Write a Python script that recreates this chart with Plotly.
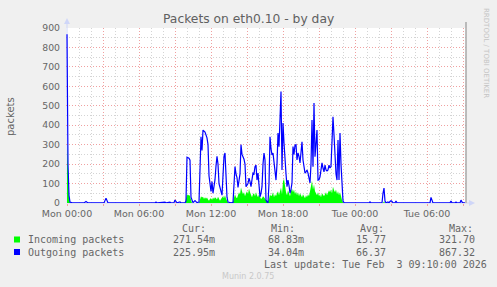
import pandas as pd
import plotly.graph_objects as go

# ---------------- data ----------------
start = pd.Timestamp("2026-02-02 00:00")
view_start = pd.Timestamp("2026-02-01 23:55")
view_end = pd.Timestamp("2026-02-03 09:15")

# outgoing packets: (minutes after Mon 00:00, value)
out_min = [0, 5, 10, 15, 25, 85, 95, 105, 185, 195, 205, 440, 445, 450, 490, 495, 515, 520, 535, 540,
           550, 565, 570, 590, 595, 600, 610, 615, 620, 630, 640, 650, 660, 665, 670, 675, 680, 690, 700, 705,
           710, 720, 725, 730, 740, 745, 750, 755, 760, 770, 775, 780, 785, 790, 795, 800, 805, 820, 830, 835,
           840, 845, 850, 855, 865, 870, 875, 880, 885, 890, 895, 905, 910, 915, 920, 925, 930, 935, 940, 945,
           950, 955, 960, 965, 970, 975, 980, 985, 990, 995, 1000, 1005, 1010, 1015, 1020, 1025, 1030, 1035, 1040, 1045,
           1050, 1055, 1060, 1065, 1070, 1075, 1080, 1085, 1090, 1095, 1100, 1105, 1110, 1115, 1120, 1125, 1130, 1135, 1140, 1145,
           1150, 1155, 1160, 1165, 1170, 1175, 1180, 1185, 1190, 1195, 1200, 1205, 1210, 1215, 1220, 1225, 1230, 1235, 1240, 1245,
           1250, 1255, 1260, 1265, 1270, 1275, 1280, 1285, 1290, 1295, 1300, 1305, 1310, 1315, 1320, 1325, 1330, 1335, 1340, 1345,
           1350, 1355, 1360, 1365, 1370, 1375, 1380, 1385, 1390, 1510, 1515, 1520, 1575, 1580, 1585, 1590, 1595, 1605, 1610, 1615,
           1620, 1625, 1630, 1640, 1645, 1650, 1740, 1745, 1750, 1815, 1820, 1825, 1830, 1915, 1920, 1925, 1940, 1945, 1950, 1965,
           1970, 1975, 1980, 1990]
outgoing = [867.32, 200, 40, 5, 0.5, 0.5, 8, 0.5, 0.5, 25, 0.5, 0.5, 5, 0.5, 5, 0.5, 4, 0.5, 2, 15,
            1, 6, 0.5, 1, 10, 235, 230, 220, 30, 2, 12, 2, 5, 200, 340, 270, 375, 365, 335, 300,
            140, 60, 110, 50, 120, 190, 240, 200, 100, 60, 40, 140, 240, 257, 120, 30, 5, 1, 3, 100,
            187, 150, 130, 80, 150, 300, 250, 238, 225, 200, 84, 100, 128, 110, 84, 120, 154, 150, 187, 195,
            118, 154, 90, 32, 50, 84, 200, 257, 221, 15, 5, 2, 100, 341, 280, 247, 257, 200, 135, 118,
            200, 360, 290, 400, 573, 170, 411, 308, 206, 150, 84, 118, 90, 50, 70, 103, 290, 250, 298, 300,
            221, 257, 240, 206, 260, 315, 221, 180, 154, 160, 170, 154, 130, 103, 200, 427, 187, 514, 238, 320,
            375, 118, 120, 135, 180, 206, 180, 160, 195, 170, 165, 170, 195, 180, 187, 300, 444, 350, 221, 150,
            118, 324, 118, 360, 200, 50, 10, 2, 0.5, 0.5, 6, 0.5, 0.5, 50, 77, 10, 0.5, 5, 0.5, 8,
            12, 8, 0.5, 0.5, 10, 0.5, 0.5, 4, 0.5, 0.5, 29, 10, 0.5, 0.5, 10, 0.5, 0.5, 5, 0.5, 0.5,
            15, 5, 0.5, 0.226]

# incoming packets: (minutes after Mon 00:00, value)
in_min = [0, 5, 10, 15, 20, 590, 595, 600, 605, 610, 615, 620, 625, 660, 665, 670, 675, 680, 685, 690,
          695, 700, 705, 710, 715, 720, 725, 730, 735, 740, 745, 750, 755, 760, 765, 770, 775, 780, 785, 790,
          795, 800, 805, 810, 825, 830, 835, 840, 845, 850, 855, 860, 865, 870, 875, 880, 885, 890, 895, 900,
          905, 910, 915, 920, 925, 930, 935, 940, 945, 950, 955, 960, 965, 970, 975, 980, 985, 990, 995, 1000,
          1005, 1010, 1015, 1020, 1025, 1030, 1035, 1040, 1045, 1050, 1055, 1060, 1065, 1070, 1075, 1080, 1085, 1090, 1095, 1100,
          1105, 1110, 1115, 1120, 1125, 1130, 1135, 1140, 1145, 1150, 1155, 1160, 1165, 1170, 1175, 1180, 1185, 1190, 1195, 1200,
          1205, 1210, 1215, 1220, 1225, 1230, 1235, 1240, 1245, 1250, 1255, 1260, 1265, 1270, 1275, 1280, 1285, 1290, 1295, 1300,
          1305, 1310, 1315, 1320, 1325, 1330, 1335, 1340, 1345, 1350, 1355, 1360, 1365, 1370, 1375, 1380, 1385, 1580, 1585, 1590,
          1990]
incoming = [321.7, 140, 35, 4, 0.3, 0.3, 20, 45, 38, 42, 35, 8, 0.5, 0.5, 15, 35, 28, 32, 20, 30,
            22, 28, 18, 12, 22, 25, 15, 28, 20, 30, 25, 18, 32, 24, 12, 20, 28, 35, 25, 40,
            22, 10, 2, 0.5, 0.5, 8, 35, 45, 30, 25, 40, 55, 45, 80, 60, 45, 55, 35, 50, 60,
            45, 75, 55, 40, 30, 45, 50, 35, 55, 40, 30, 45, 28, 20, 25, 35, 30, 20, 15, 10,
            12, 20, 45, 35, 40, 55, 30, 45, 35, 50, 60, 40, 55, 80, 45, 110, 125, 70, 55, 40,
            65, 50, 35, 60, 75, 55, 70, 45, 60, 40, 55, 35, 50, 40, 30, 45, 35, 25, 40, 30,
            45, 35, 60, 90, 115, 70, 95, 60, 50, 40, 55, 35, 45, 30, 50, 40, 35, 45, 55, 40,
            50, 65, 55, 70, 50, 84, 65, 55, 70, 45, 60, 40, 55, 30, 15, 3, 0.3, 0.3, 8, 0.3,
            0.27]

tick_hours = [0, 3, 6, 9, 12, 15, 18, 21, 24, 27, 30, 33]
tick_labels = ["Mon 00:00", "", "Mon 06:00", "", "Mon 12:00", "", "Mon 18:00", "",
               "Tue 00:00", "", "Tue 06:00", ""]

series_names = ["Incoming packets", "Outgoing packets"]
series_colors = ["#00FF00", "#0000FF"]
cur_vals = ["271.54m", "225.95m"]
min_vals = ["68.83m", "34.04m"]
avg_vals = ["15.77", "66.37"]
max_vals = ["321.70", "867.32"]

# ---------------- layout geometry ----------------
W, H = 497, 287
ML, MR, MT, MB = 66, 31, 28, 84
PW, PH = W - ML - MR, H - MT - MB


def px(x):
    return (x - ML) / PW


def py(y):
    return (H - MB - y) / PH


x_out = [start + pd.Timedelta(minutes=m) for m in out_min]
x_in = [start + pd.Timedelta(minutes=m) for m in in_min]

fig = go.Figure()
fig.add_trace(go.Scatter(x=x_in, y=incoming, mode="lines", line=dict(width=0, color="#00FF00"),
                         fill="tozeroy", fillcolor="#00FF00", hoverinfo="skip"))
fig.add_trace(go.Scatter(x=x_out, y=outgoing, mode="lines", line=dict(width=1.2, color="#0000FF"),
                         hoverinfo="skip"))

FONT = "DejaVu Sans"
MONO = "DejaVu Sans Mono"
TXT = "#666666"
MAJ = "#F0A0A0"
MINC = "#D4D4D4"

fig.update_layout(
    width=W, height=H,
    margin=dict(l=ML, r=MR, t=MT, b=MB),
    paper_bgcolor="#F0F0F0", plot_bgcolor="#FFFFFF",
    showlegend=False,
    xaxis=dict(
        type="date", range=[view_start, view_end],
        tickvals=[start + pd.Timedelta(hours=h) for h in tick_hours],
        ticktext=tick_labels,
        tickfont=dict(family=FONT, size=9.5, color=TXT),
        ticks="outside", ticklen=2, tickcolor=MAJ,
        showgrid=True, gridcolor=MAJ, griddash="1px,2px", gridwidth=1,
        minor=dict(dtick=3600000, tick0=start, showgrid=True, gridcolor=MINC, griddash="1px,2px", ticks=""),
        zeroline=False, showline=False, fixedrange=True,
    ),
    yaxis=dict(
        range=[0, 900], dtick=100, tick0=0,
        tickfont=dict(family=FONT, size=9.3, color=TXT),
        ticks="", ticklabelstandoff=5,
        showgrid=True, gridcolor=MAJ, griddash="1px,2px", gridwidth=1,
        minor=dict(dtick=50, showgrid=True, gridcolor=MINC, griddash="1px,2px", ticks=""),
        zeroline=False, showline=False, fixedrange=True,
    ),
)

shapes = []
AX = "#CFD6F8"
# axis lines
shapes.append(dict(type="line", xref="paper", yref="paper", x0=px(67), x1=px(67), y0=0, y1=py(21),
                   line=dict(color=AX, width=1), layer="below"))
shapes.append(dict(type="line", xref="paper", yref="paper", x0=px(67), x1=px(470), y0=0, y1=0,
                   line=dict(color=AX, width=1), layer="below"))
# arrows
shapes.append(dict(type="path", xref="paper", yref="paper",
                   path=f"M {px(64)},{py(24)} L {px(70)},{py(24)} L {px(67)},{py(18)} Z",
                   fillcolor=AX, line=dict(width=0)))
shapes.append(dict(type="path", xref="paper", yref="paper",
                   path=f"M {px(469)},{py(200)} L {px(469)},{py(206)} L {px(475)},{py(203)} Z",
                   fillcolor=AX, line=dict(width=0)))
# right frame line
shapes.append(dict(type="line", xref="paper", yref="paper", x0=px(466), x1=px(466), y0=0, y1=py(22),
                   line=dict(color="#A8A8A8", width=1.5)))
# legend squares
for i, c in enumerate(series_colors):
    yc = 239.5 + 12.5 * i
    shapes.append(dict(type="rect", xref="paper", yref="paper",
                       x0=px(14), x1=px(20), y0=py(yc + 3), y1=py(yc - 3),
                       fillcolor=c, line=dict(width=0)))
fig.update_layout(shapes=shapes)

ann = []


def text(x, y, s, size, color=TXT, family=FONT, xanchor="left", angle=0):
    ann.append(dict(x=px(x), y=py(y), xref="paper", yref="paper", text=s, showarrow=False,
                    xanchor=xanchor, yanchor="middle", textangle=angle,
                    font=dict(family=family, size=size, color=color)))


text(248, 19, "Packets on eth0.10 - by day", 12.3, color="#606060", xanchor="center")
text(10, 116, "packets", 10, angle=-90, xanchor="center")
text(486, 53, "RRDTOOL / TOBI OETIKER", 7, color="#C4C4C4", xanchor="center", angle=90)

text(180, 228, "Cur:", 10, family=MONO)
text(269, 228, "Min:", 10, family=MONO)
text(358, 228, "Avg:", 10, family=MONO)
text(447, 228, "Max:", 10, family=MONO)
for i, name in enumerate(series_names):
    yc = 239.5 + 12.5 * i
    text(26, yc, name, 10, family=MONO)
    text(217, yc, cur_vals[i], 10, family=MONO, xanchor="right")
    text(306, yc, min_vals[i], 10, family=MONO, xanchor="right")
    text(388, yc, avg_vals[i], 10, family=MONO, xanchor="right")
    text(477, yc, max_vals[i], 10, family=MONO, xanchor="right")
text(262, 264, "Last update: Tue Feb \u00a03 09:10:00 2026", 10, family=MONO)
text(248, 276, "Munin 2.0.75", 8, color="#C8C8C8", xanchor="center")
fig.update_layout(annotations=ann)

fig.write_html("out.html")
